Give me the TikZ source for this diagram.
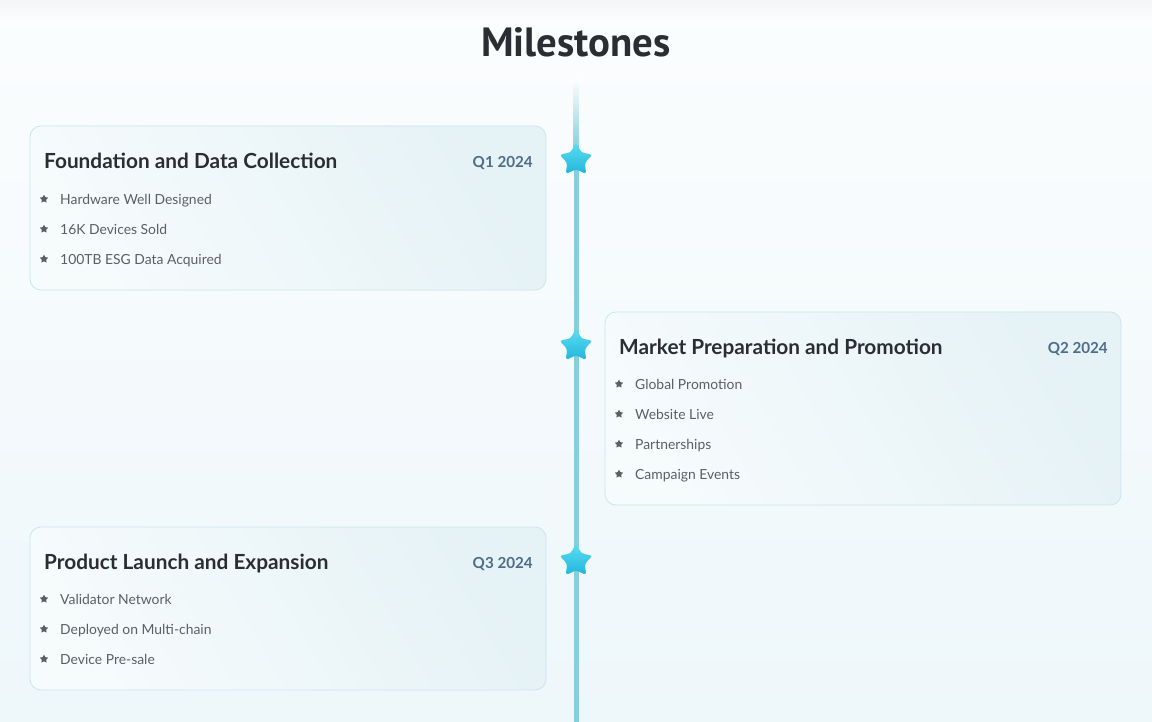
\documentclass[tikz,border=0pt]{standalone}
\usepackage{fontspec}
\setmainfont{Lato}
\newfontfamily\titlefont{PT Sans}
\usetikzlibrary{shapes.geometric,shadows}
\definecolor{bgtop}{HTML}{FBFDFE}
\definecolor{bgbot}{HTML}{EEF7FA}
\definecolor{band}{HTML}{F3F5F6}
\definecolor{linec}{HTML}{86CFDA}
\definecolor{cardborder}{HTML}{C9E6EC}
\definecolor{cardA}{HTML}{F6FBFC}
\definecolor{cardB}{HTML}{E5F2F6}
\definecolor{titlec}{HTML}{2A2E33}
\definecolor{datec}{HTML}{4F6D88}
\definecolor{itemc}{HTML}{5A5F66}
\definecolor{starA}{HTML}{5ADDF2}
\definecolor{starB}{HTML}{22B6DB}
\tikzset{
  x=1pt, y=-1pt,
  card/.style={draw=cardborder, line width=0.8pt, rounded corners=11pt,
    left color=cardA, right color=cardB, shading angle=120,
    minimum width=516pt, inner sep=0pt},
  ctitle/.style={anchor=base west, inner sep=0pt, text=titlec,
    font=\fontsize{20.8}{24}\selectfont\bfseries},
  cdate/.style={anchor=base east, inner sep=0pt, text=datec,
    font=\fontsize{15.2}{18}\selectfont\bfseries},
  item/.style={anchor=base west, inner sep=0pt, text=itemc,
    font=\fontsize{13.9}{16}\selectfont},
  bullet/.style={star, star points=5, star point ratio=2.0, fill=itemc,
    minimum size=9pt, inner sep=0pt, rounded corners=0.4pt},
  bigstar/.style={star, star points=5, star point ratio=1.9,
    top color=starA, bottom color=starB, draw=none,
    minimum size=35pt, inner sep=0pt, rounded corners=3pt},
}
\begin{document}
\begin{tikzpicture}
\useasboundingbox (0,0) rectangle (1152,722);
% background
\shade[top color=bgtop, bottom color=bgbot] (0,0) rectangle (1152,722);
\shade[top color=band, bottom color=bgtop] (0,0) rectangle (1152,22);
% title
\node[anchor=base, inner sep=0pt, text=titlec, font=\fontsize{40.8}{46}\selectfont\titlefont\bfseries] (title) at (576,57) {Milestones};
% timeline
\coordinate (ltop) at (576,80);
\coordinate (lmid) at (576,150);
\coordinate (lbot) at (576,722);
\shade[top color=bgtop, bottom color=linec] (573.5,80) rectangle (578.5,150);
\draw[linec, line width=5pt] (lmid) -- (lbot);
% card 1
\node[card, minimum height=164pt] (c1) at (288,208) {};
\node[ctitle] (t1) at (44,168.5) {Foundation and Data Collection};
\node[cdate] (d1) at (533,167.5) {Q1 2024};
\node[bullet] (b11) at (44,199) {};
\node[item] (i11) at (60,204.5) {Hardware Well Designed};
\node[bullet] (b12) at (44,229) {};
\node[item] (i12) at (60,234.5) {16K Devices Sold};
\node[bullet] (b13) at (44,259) {};
\node[item] (i13) at (60,264.5) {100TB ESG Data Acquired};
% card 2
\node[card, minimum height=193pt] (c2) at (863,408.5) {};
\node[ctitle] (t2) at (619,354.5) {Market Preparation and Promotion};
\node[cdate] (d2) at (1108,353.5) {Q2 2024};
\node[bullet] (b21) at (619,384) {};
\node[item] (i21) at (635,389.5) {Global Promotion};
\node[bullet] (b22) at (619,414) {};
\node[item] (i22) at (635,419.5) {Website Live};
\node[bullet] (b23) at (619,444) {};
\node[item] (i23) at (635,449.5) {Partnerships};
\node[bullet] (b24) at (619,474) {};
\node[item] (i24) at (635,479.5) {Campaign Events};
% card 3
\node[card, minimum height=163pt] (c3) at (288,608.5) {};
\node[ctitle] (t3) at (44,569.5) {Product Launch and Expansion};
\node[cdate] (d3) at (533,568.5) {Q3 2024};
\node[bullet] (b31) at (44,599) {};
\node[item] (i31) at (60,604.5) {Validator Network};
\node[bullet] (b32) at (44,629) {};
\node[item] (i32) at (60,634.5) {Deployed on Multi-chain};
\node[bullet] (b33) at (44,659) {};
\node[item] (i33) at (60,664.5) {Device Pre-sale};
% stars
\node[bigstar] (s1) at (576,160) {};
\node[bigstar] (s2) at (576,346) {};
\node[bigstar] (s3) at (576,561) {};
\end{tikzpicture}
\end{document}
